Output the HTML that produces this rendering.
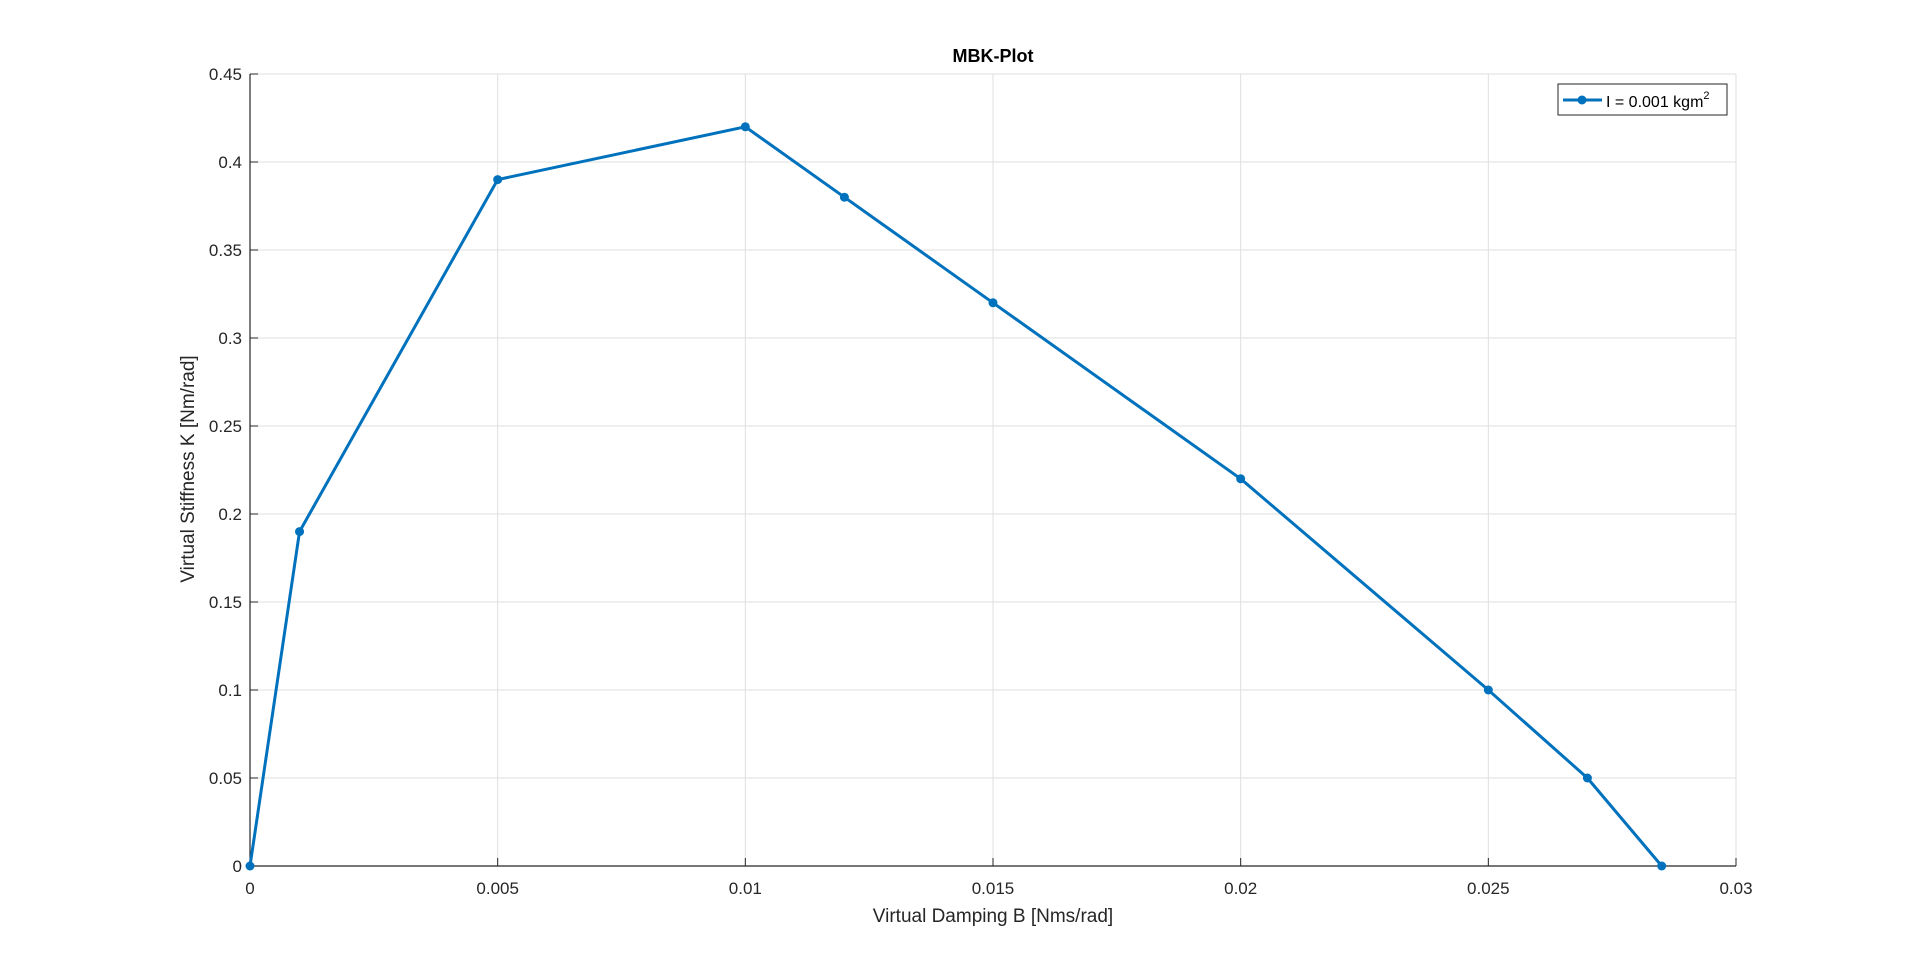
<!DOCTYPE html>
<html><head><meta charset="utf-8"><style>
body{margin:0;background:#fff;width:1920px;height:973px;overflow:hidden;font-family:"Liberation Sans",Arial,sans-serif}
svg text{font-family:"Liberation Sans",Arial,sans-serif;fill:#262626}
</style></head><body>
<svg id="chart" width="1920" height="973" xmlns="http://www.w3.org/2000/svg">
<rect width="1920" height="973" fill="#fff"/>
<g id="grid"></g>
<g id="axes"></g>
<g id="series"></g>
<text x="993" y="62" text-anchor="middle" font-size="18" font-weight="bold" style="fill:#000">MBK-Plot</text>
<text x="993" y="922" text-anchor="middle" font-size="19">Virtual Damping B [Nms/rad]</text>
<text transform="translate(194,469) rotate(-90)" text-anchor="middle" font-size="19">Virtual Stiffness K [Nm/rad]</text>
<g>
<rect x="1558" y="84" width="169" height="31" fill="#fff" stroke="#262626" stroke-width="1"/>
<line x1="1563" y1="100" x2="1602" y2="100" stroke="#0072BD" stroke-width="3"/>
<circle cx="1582" cy="100" r="4.5" fill="#0072BD"/>
<text x="1606" y="107" font-size="16" style="fill:#000">I = 0.001 kgm<tspan dy="-8" font-size="11">2</tspan></text>
</g>
</svg>
<script>
const xValues=[0,0.001,0.005,0.01,0.012,0.015,0.02,0.025,0.027,0.0285];
const yValues=[0,0.19,0.39,0.42,0.38,0.32,0.22,0.10,0.05,0];
const xTicks=[0,0.005,0.01,0.015,0.02,0.025,0.03];
const xTickLabels=["0","0.005","0.01","0.015","0.02","0.025","0.03"];
const yTicks=[0,0.05,0.1,0.15,0.2,0.25,0.3,0.35,0.4,0.45];
const yTickLabels=["0","0.05","0.1","0.15","0.2","0.25","0.3","0.35","0.4","0.45"];
const L=250,R=1736,T=74,B=866;
const sx=v=>L+(v-0)/(0.03)*(R-L);
const sy=v=>B-(v-0)/(0.45)*(B-T);
const NS="http://www.w3.org/2000/svg";
function mk(tag,attrs,parent){const e=document.createElementNS(NS,tag);for(const k in attrs)e.setAttribute(k,attrs[k]);parent.appendChild(e);return e;}
const grid=document.getElementById('grid'),axes=document.getElementById('axes'),series=document.getElementById('series');
xTicks.forEach((t,i)=>{
  const g=mk('line',{x1:sx(t),x2:sx(t),y1:T,y2:B,stroke:'#dfdfdf','stroke-width':1},grid);
  
  
  const tk=mk('line',{x1:sx(t),x2:sx(t),y1:B,y2:B-8,stroke:'#262626','stroke-width':1},axes);
  
  
  const tx=mk('text',{x:sx(t),y:B+28,'text-anchor':'middle','font-size':17},axes);
  tx.textContent=xTickLabels[i];
  
  
});
yTicks.forEach((t,i)=>{
  const g=mk('line',{x1:L,x2:R,y1:sy(t),y2:sy(t),stroke:'#dfdfdf','stroke-width':1},grid);
  
  
  const tk=mk('line',{x1:L,x2:L+8,y1:sy(t),y2:sy(t),stroke:'#262626','stroke-width':1},axes);
  
  
  const tx=mk('text',{x:L-8,y:sy(t)+6,'text-anchor':'end','font-size':17},axes);
  tx.textContent=yTickLabels[i];
  
  
});
const xa=mk('line',{x1:L,x2:R,y1:B,y2:B,stroke:'#262626','stroke-width':1.2},axes);


const ya=mk('line',{x1:L,x2:L,y1:T,y2:B,stroke:'#262626','stroke-width':1.2},axes);


const pts=xValues.map((x,i)=>sx(x)+','+sy(yValues[i])).join(' ');
const pl=mk('polyline',{points:pts,fill:'none',stroke:'#0072BD','stroke-width':3,'stroke-linejoin':'round'},series);


xValues.forEach((x,i)=>{
  const c=mk('circle',{cx:sx(x),cy:sy(yValues[i]),r:4.5,fill:'#0072BD'},series);
  
  
});
</script>
</body></html>
